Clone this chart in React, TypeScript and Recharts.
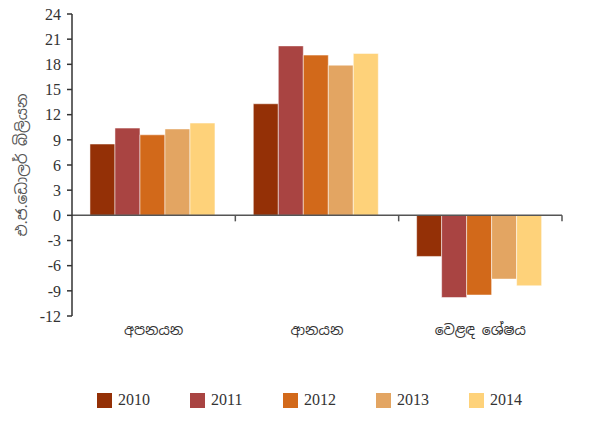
import { BarChart, Bar, XAxis, YAxis, ReferenceLine, Legend } from 'recharts';

const categories = ['අපනයන', 'ආනයන', 'වෙළඳ ශේෂය'];
const years = ['2010', '2011', '2012', '2013', '2014'];
const v2010 = [8.5, 13.3, -4.9];
const v2011 = [10.4, 20.2, -9.8];
const v2012 = [9.6, 19.1, -9.5];
const v2013 = [10.3, 17.9, -7.6];
const v2014 = [11.0, 19.3, -8.4];
const yTicks = [-12, -9, -6, -3, 0, 3, 6, 9, 12, 15, 18, 21, 24];

const colors = ['#943006', '#A94442', '#D2691A', '#E3A562', '#FED27A'];
const serif = '"Times New Roman", "Liberation Serif", serif';
const sans = '"Noto Sans Sinhala", "Noto Sans", sans-serif';

const series = [v2010, v2011, v2012, v2013, v2014];
const chartData = categories.map((name, i) => {
  const row: Record<string, string | number> = { name };
  years.forEach((y, k) => { row[y] = series[k][i]; });
  return row;
});

// zero line with Excel-style tick marks at the category boundaries
function ZeroLine(props: any) {
  const { x1, y1, x2 } = props;
  const step = (x2 - x1) / categories.length;
  return (
    <g>
      <line x1={x1} y1={y1} x2={x2} y2={y1} stroke="#555" strokeWidth={1.5} />
      {categories.map((_, i) => (
        <line key={i} x1={x1 + step * (i + 1)} y1={y1} x2={x1 + step * (i + 1)} y2={y1 + 6} stroke="#555" strokeWidth={1.5} />
      ))}
    </g>
  );
}

function LegendContent(props: any) {
  const items = props.payload ?? [];
  return (
    <div style={{ display: 'flex', paddingLeft: 97 }}>
      {items.map((it: any) => (
        <div key={it.value} style={{ display: 'flex', alignItems: 'center', width: 94.5 }}>
          <span style={{ display: 'inline-block', width: 15, height: 15, background: it.color, marginRight: 6 }} />
          <span style={{ fontFamily: serif, fontSize: 16, color: '#333' }}>{it.value}</span>
        </div>
      ))}
    </div>
  );
}

export default function App() {
  return (
    <div style={{ position: 'absolute', left: 0, top: 0, background: '#fff' }}>
      <BarChart
        width={596}
        height={423}
        data={chartData}
        margin={{ top: 14, right: 34, bottom: 10, left: 0 }}
        barCategoryGap="11%"
        barGap={0}
      >
        <XAxis
          dataKey="name"
          axisLine={false}
          tickLine={false}
          tick={{ fontFamily: sans, fontSize: 14, fill: '#333' }}
          tickMargin={3}
          height={79}
        />
        <YAxis
          width={72}
          domain={[-12, 24]}
          ticks={yTicks}
          interval={0}
          axisLine={{ stroke: '#333', strokeWidth: 1.5 }}
          tickLine={{ stroke: '#333', strokeWidth: 1.5 }}
          tickSize={5}
          tickMargin={6}
          tick={{ fontFamily: serif, fontSize: 16, fill: '#333' }}
          label={{
            content: ({ viewBox }: any) => {
              const cx = viewBox.x + 21;
              const cy = viewBox.y + viewBox.height / 2;
              return (
                <text x={cx} y={cy} transform={`rotate(-90 ${cx} ${cy})`} textAnchor="middle" dominantBaseline="central"
                  style={{ fontFamily: sans, fontSize: 15, fill: '#555' }}>
                  එ.ජ.ඩොලර් බිලියන
                </text>
              );
            },
          }}
        />
        <Legend verticalAlign="bottom" content={<LegendContent />} wrapperStyle={{ bottom: 14 }} />
        {years.map((y, k) => (
          <Bar key={y} dataKey={y} fill={colors[k]} stroke="rgba(255,255,255,0.5)" strokeWidth={1} isAnimationActive={false} />
        ))}
        <ReferenceLine y={0} shape={<ZeroLine />} />
      </BarChart>
    </div>
  );
}
